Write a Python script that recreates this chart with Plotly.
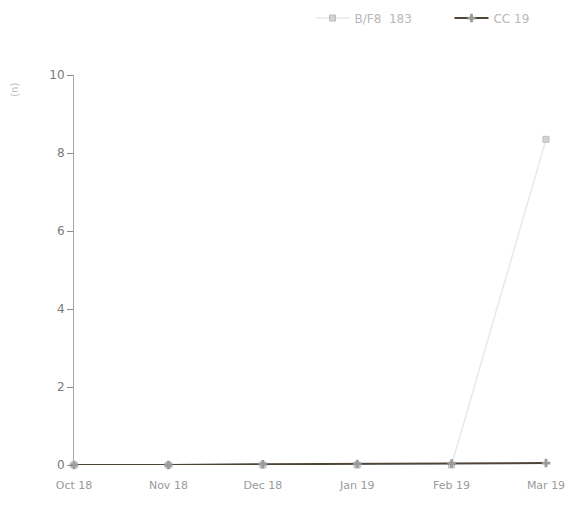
import plotly.graph_objects as go

months = ["Oct 18", "Nov 18", "Dec 18", "Jan 19", "Feb 19", "Mar 19"]
series_a_name = "B/F8  183"
series_a = [0, 0, 0, 0, 0, 8.35]
series_b_name = "CC 19"
series_b = [0, 0, 0.02, 0.03, 0.04, 0.05]
y_ticks = [0, 2, 4, 6, 8, 10]

fig = go.Figure()
fig.add_trace(go.Scatter(
    x=months, y=series_a, name=series_a_name, mode="lines+markers",
    line=dict(color="#e6e8ee", width=1.5),
    marker=dict(symbol="square", size=6, color="#d2d2d2", line=dict(color="#bdbdbd", width=1)),
    cliponaxis=False,
))
fig.add_trace(go.Scatter(
    x=months, y=series_b, name=series_b_name, mode="lines+markers",
    line=dict(color="#4f4438", width=2),
    marker=dict(symbol="cross", size=7, color="#9a9a9a"),
    cliponaxis=False,
))

fig.update_layout(
    width=572, height=497,
    margin=dict(l=66, r=34, t=67, b=40, autoexpand=False),
    paper_bgcolor="white", plot_bgcolor="white",
    font=dict(family="DejaVu Sans", size=11, color="#8a8a8a"),
    showlegend=True,
    legend=dict(orientation="h", x=1.09, xanchor="right", y=1.146, yanchor="middle",
                font=dict(size=12, color="#b8b8b8"),
                itemwidth=34, entrywidth=90, bgcolor="rgba(0,0,0,0)"),
    xaxis=dict(type="category", range=[0, 5], showgrid=False, zeroline=False,
               showline=False, ticks="outside", ticklen=10, tickcolor="rgba(0,0,0,0)",
               tickfont=dict(size=11, color="#9a9a9a")),
    yaxis=dict(range=[0, 10], tickvals=y_ticks, showgrid=False, zeroline=False,
               showline=True, linecolor="#a8a8a8", linewidth=1,
               ticks="outside", ticklen=6, tickcolor="#8a8a8a",
               tickfont=dict(size=12, color="#7a7a7a")),
)
fig.add_annotation(text="(n)", textangle=-90, xref="paper", yref="paper",
                   x=-0.125, y=0.985, xanchor="center", yanchor="top", showarrow=False,
                   font=dict(size=10, color="#c0c0c0"))
fig.write_html("out.html")
